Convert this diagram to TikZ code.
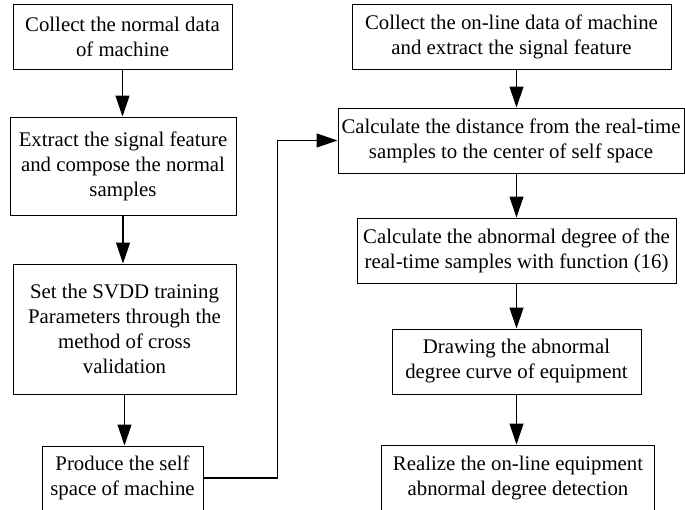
\documentclass[tikz,border=0pt]{standalone}
\usepackage{fontspec}
\setmainfont{Liberation Serif}
\usepackage{tikz}
\usetikzlibrary{arrows.meta,positioning}

\begin{document}
\begin{tikzpicture}[
  x=1pt, y=-1pt,
  stepbox/.style={draw, line width=1pt, inner sep=0pt, align=center,
                  font=\fontsize{20.8}{25}\selectfont},
  arr/.style={draw, line width=1.2pt, -{Triangle[length=21pt,width=14pt]}}
]
  \useasboundingbox (0,0) rectangle (685,509);
  \clip (0,0) rectangle (685,509);

  % left column
  \node[stepbox, minimum width=219pt, minimum height=65pt]  (B1) at (122.5,36.5)
    {Collect the normal data\\of machine};
  \node[stepbox, minimum width=226pt, minimum height=98pt]  (B2) at (123,166)
    {Extract the signal feature\\and compose the normal\\samples};
  \node[stepbox, minimum width=223pt, minimum height=130pt] (B3) at (124.5,329)
    {Set the SVDD training\\Parameters through the\\method of cross\\validation};
  \node[stepbox, minimum width=161pt, minimum height=64pt]  (B4) at (122.5,478)
    {Produce the self\\space of machine};

  % right column
  \node[stepbox, minimum width=319pt, minimum height=65pt]  (R1) at (511.5,36.5)
    {Collect the on-line data of machine\\and extract the signal feature};
  \node[stepbox, minimum width=346pt, minimum height=65pt]  (R2) at (511,140.5)
    {Calculate the distance from the real-time\\samples to the center of self space};
  \node[stepbox, minimum width=319pt, minimum height=65pt]  (R3) at (516.5,250.5)
    {Calculate the abnormal degree of the\\real-time samples with function (16)};
  \node[stepbox, minimum width=249pt, minimum height=65pt]  (R4) at (516.5,361.5)
    {Drawing the abnormal\\degree curve of equipment};
  \node[stepbox, minimum width=273pt, minimum height=66pt]  (R5) at (518,478)
    {Realize the on-line equipment\\abnormal degree detection};

  \draw[arr] (B1.south) -- (B1.south |- B2.north);
  \draw[arr] (B2.south) -- (B2.south |- B3.north);
  \draw[arr] (B3.south) -- (B3.south |- B4.north);
  \draw[arr] (B4.east) -- ++(74,0) |- (R2.west);

  \draw[arr] (R1.south -| R3.north) -- (R2.north -| R3.north);
  \draw[arr] (R2.south -| R3.north) -- (R3.north);
  \draw[arr] (R3.south) -- (R4.north);
  \draw[arr] (R4.south) -- (R4.south |- R5.north);
\end{tikzpicture}
\end{document}
